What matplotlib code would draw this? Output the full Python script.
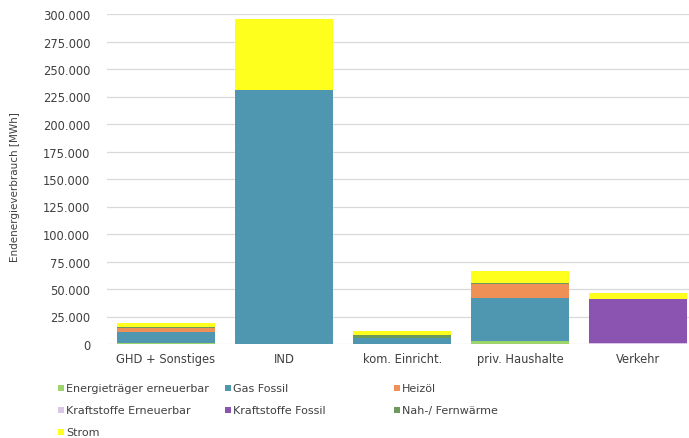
import numpy as np
import matplotlib.pyplot as plt
from matplotlib.patches import Rectangle
from matplotlib.ticker import FuncFormatter

categories = ['GHD + Sonstiges', 'IND', 'kom. Einricht.', 'priv. Haushalte', 'Verkehr']

series = ['Energieträger erneuerbar', 'Gas Fossil', 'Heizöl',
          'Kraftstoffe Erneuerbar', 'Kraftstoffe Fossil', 'Nah-/ Fernwärme', 'Strom']

# MWh per sector
energietraeger_ern = [500, 0, 0, 2500, 0]
gas_fossil = [10000, 231000, 5500, 39000, 0]
heizoel = [4500, 0, 0, 13500, 0]
kraftstoffe_ern = [0, 0, 0, 0, 1000]
kraftstoffe_fos = [0, 0, 0, 0, 39500]
nah_fernwaerme = [300, 0, 3000, 500, 0]
strom = [3500, 64500, 3000, 11000, 5500]

colors = ['#9dd46c', '#4f96b0', '#ef9056', '#dcc6e8', '#8c54b1', '#6b9a5c', '#ffff1e']

values = [energietraeger_ern, gas_fossil, heizoel, kraftstoffe_ern,
          kraftstoffe_fos, nah_fernwaerme, strom]

fig = plt.figure(figsize=(6.89, 4.39), dpi=100)
W, H = 689, 439
ax = fig.add_axes([107 / W, 1 - 345 / H, (689 - 107) / W, (345 - 15) / H])

x = np.arange(len(categories))
bottom = np.zeros(len(categories))
for name, vals, c in zip(series, values, colors):
    ax.bar(x, vals, bottom=bottom, width=0.83, color=c, label=name, zorder=3)
    bottom += np.array(vals)

ax.set_xlim(-0.5, 4.43)
ax.set_ylim(0, 300000)
ax.set_yticks(np.arange(0, 300001, 25000))
ax.yaxis.set_major_formatter(FuncFormatter(lambda v, p: f'{int(v):,}'.replace(',', '.')))
ax.set_xticks(x)
ax.set_xticklabels(categories)
ax.grid(axis='y', color='#d9d9d9', linewidth=0.9, zorder=0)
for s in ax.spines.values():
    s.set_visible(False)
ax.tick_params(length=0, colors='#404040', labelsize=8.3)
ax.tick_params(axis='y', pad=12)
ax.tick_params(axis='x', pad=6)

fig.text(15 / W, 1 - 187 / H, 'Endenergieverbrauch [MWh]', rotation=90,
         ha='center', va='center', fontsize=7.5, color='#404040')

# legend, row by row in three columns
col_x = [58, 225, 394]
row_y = [389, 411, 433]
for i, (name, c) in enumerate(zip(series, colors)):
    cx = col_x[i % 3]
    cy = row_y[i // 3]
    fig.patches.append(Rectangle((cx / W, 1 - (cy + 3) / H), 6 / W, 6 / H,
                                 transform=fig.transFigure, facecolor=c, edgecolor='none'))
    fig.text((cx + 8) / W, 1 - cy / H, name, ha='left', va='center',
             fontsize=8, color='#404040')

plt.savefig('out.png', dpi=100)
